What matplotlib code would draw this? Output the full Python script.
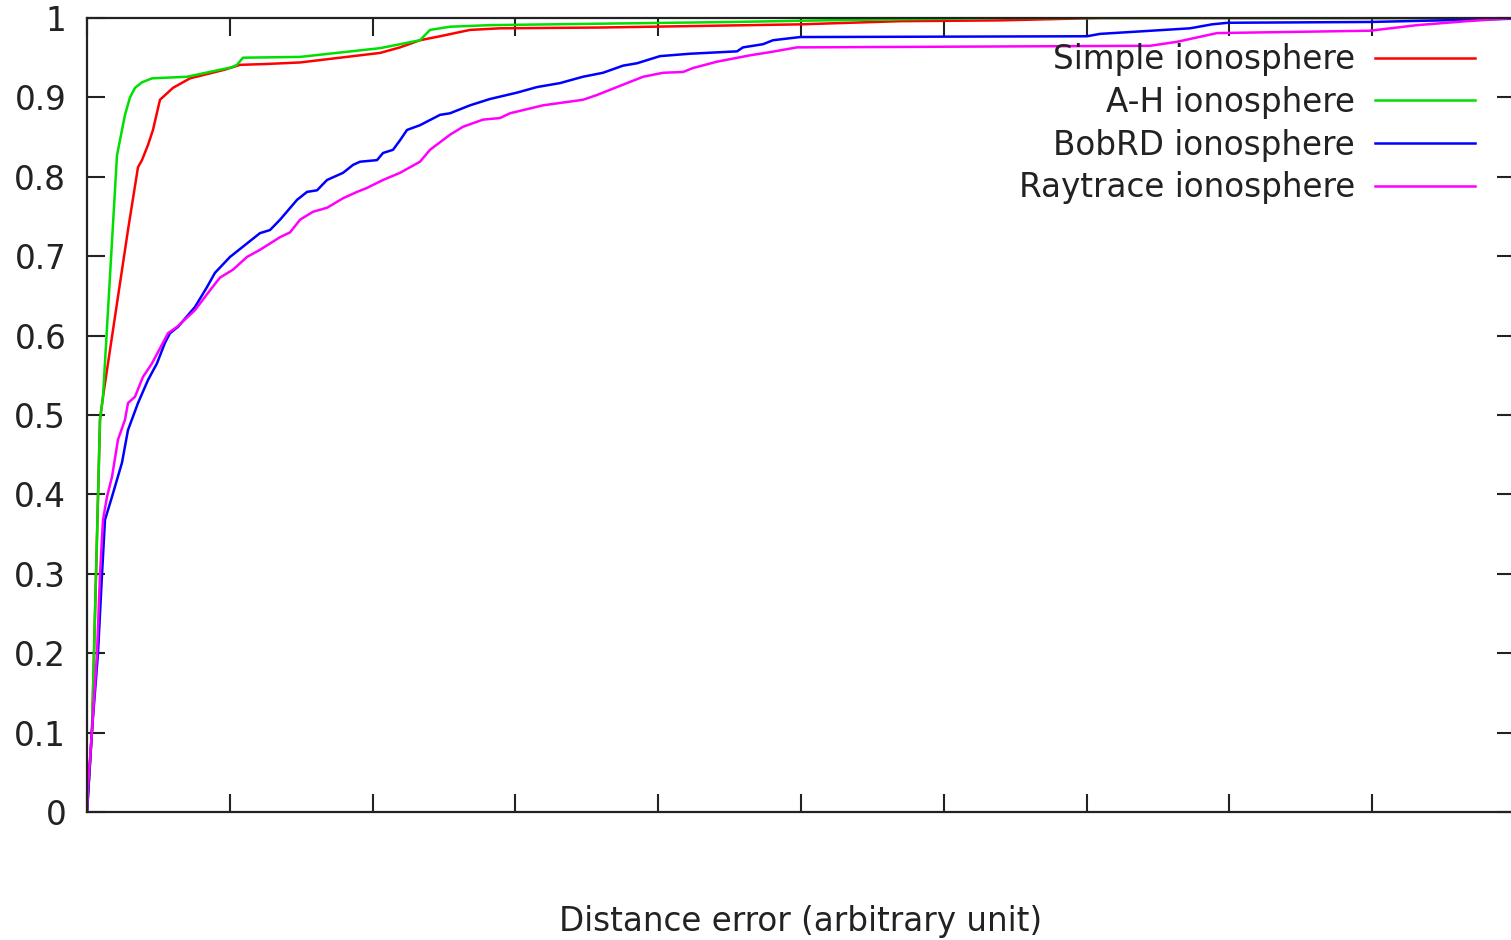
import matplotlib
matplotlib.use("Agg")
import matplotlib.pyplot as plt
from matplotlib.ticker import FixedLocator, FixedFormatter

# Cumulative distribution of distance error for each ionosphere model
simple_x = [0, 0.035, 0.049, 0.091, 0.112, 0.147, 0.217, 0.287, 0.357, 0.385, 0.427, 0.462,
            0.511, 0.602, 0.721, 0.966, 1.071, 1.246, 1.492, 2.052, 2.192, 2.332, 2.472,
            2.682, 2.892, 3.592, 4.993, 5.694, 6.394, 7.094, 10.0]
simple_y = [0, 0.103, 0.200, 0.494, 0.523, 0.565, 0.649, 0.733, 0.812, 0.821, 0.840, 0.859,
            0.897, 0.912, 0.924, 0.935, 0.941, 0.942, 0.944, 0.956, 0.963, 0.972, 0.977,
            0.985, 0.987, 0.988, 0.992, 0.996, 0.997, 1.0, 1.0]

ah_x = [0, 0.035, 0.049, 0.091, 0.112, 0.210, 0.245, 0.266, 0.301, 0.336, 0.385, 0.455,
        0.700, 1.015, 1.050, 1.092, 1.492, 2.052, 2.192, 2.332, 2.402, 2.542, 2.822,
        4.524, 5.154, 6.394, 10.0]
ah_y = [0, 0.103, 0.200, 0.494, 0.523, 0.827, 0.859, 0.878, 0.900, 0.912, 0.919, 0.924,
        0.926, 0.938, 0.941, 0.950, 0.951, 0.962, 0.967, 0.972, 0.985, 0.989, 0.991,
        0.995, 0.997, 1.0, 1.0]

bobrd_x = [0, 0.035, 0.077, 0.105, 0.126, 0.175, 0.245, 0.287, 0.357, 0.427, 0.490, 0.546,
           0.581, 0.637, 0.756, 0.840, 0.896, 1.001, 1.211, 1.282, 1.352, 1.471, 1.541,
           1.611, 1.681, 1.793, 1.863, 1.912, 2.031, 2.073, 2.143, 2.192, 2.241, 2.332,
           2.472, 2.542, 2.682, 2.822, 3.011, 3.151, 3.312, 3.473, 3.613, 3.754, 3.852,
           4.013, 4.223, 4.552, 4.594, 4.734, 4.804, 4.993, 7.003, 7.094, 7.724, 7.878,
           7.990, 8.985, 9.972, 10.0]
bobrd_y = [0, 0.103, 0.200, 0.299, 0.368, 0.397, 0.440, 0.481, 0.515, 0.544, 0.565, 0.591,
           0.603, 0.611, 0.636, 0.661, 0.679, 0.699, 0.729, 0.733, 0.746, 0.771, 0.781,
           0.783, 0.796, 0.805, 0.815, 0.819, 0.821, 0.830, 0.834, 0.846, 0.859, 0.865,
           0.878, 0.880, 0.890, 0.898, 0.906, 0.913, 0.918, 0.926, 0.931, 0.940, 0.943,
           0.952, 0.955, 0.958, 0.963, 0.967, 0.972, 0.976, 0.977, 0.980, 0.987, 0.992,
           0.994, 0.995, 0.999, 1.0]

raytrace_x = [0, 0.007, 0.035, 0.070, 0.091, 0.112, 0.140, 0.175, 0.217, 0.266, 0.287, 0.336,
              0.392, 0.455, 0.532, 0.567, 0.630, 0.756, 0.861, 0.931, 1.022, 1.120, 1.211,
              1.352, 1.422, 1.492, 1.583, 1.681, 1.793, 1.891, 1.961, 2.073, 2.192, 2.332,
              2.402, 2.542, 2.633, 2.773, 2.892, 2.962, 3.193, 3.473, 3.571, 3.711, 3.894,
              4.034, 4.174, 4.244, 4.412, 4.643, 4.783, 4.972, 7.444, 7.633, 7.913, 8.985,
              9.314, 9.664, 10.0]
raytrace_y = [0, 0.031, 0.103, 0.200, 0.299, 0.368, 0.397, 0.422, 0.469, 0.494, 0.515, 0.523,
              0.548, 0.565, 0.591, 0.603, 0.611, 0.632, 0.657, 0.673, 0.683, 0.699, 0.708,
              0.724, 0.730, 0.746, 0.756, 0.761, 0.773, 0.781, 0.786, 0.796, 0.805, 0.819,
              0.834, 0.853, 0.863, 0.872, 0.874, 0.880, 0.890, 0.897, 0.903, 0.913, 0.926,
              0.931, 0.932, 0.937, 0.945, 0.953, 0.957, 0.963, 0.965, 0.970, 0.981, 0.984,
              0.991, 0.996, 1.0]

series_labels = ["Simple ionosphere", "A-H ionosphere", "BobRD ionosphere", "Raytrace ionosphere"]
series_colors = ["#ff0000", "#00e000", "#0000ff", "#ff00ff"]

y_ticks = [0, 0.1, 0.2, 0.3, 0.4, 0.5, 0.6, 0.7, 0.8, 0.9, 1.0]
y_tick_labels = ["0", "0.1", "0.2", "0.3", "0.4", "0.5", "0.6", "0.7", "0.8", "0.9", "1"]
x_ticks = [0, 1, 2, 3, 4, 5, 6, 7, 8, 9, 10]

plt.rcParams["font.family"] = ["DejaVu Sans"]
FS = 23.5

fig = plt.figure(figsize=(15.11, 9.40), dpi=100)
W, H = 1511.0, 940.0
ax = fig.add_axes([87 / W, 1 - 812 / H, (1515 - 87) / W, (812 - 18) / H])

for xs, ys, lab, col in zip([simple_x, ah_x, bobrd_x, raytrace_x],
                            [simple_y, ah_y, bobrd_y, raytrace_y],
                            series_labels, series_colors):
    ax.plot(xs, ys, color=col, lw=1.8, label=lab, solid_joinstyle="round")

ax.set_xlim(0, 10)
ax.set_ylim(0, 1)
ax.xaxis.set_major_locator(FixedLocator(x_ticks))
ax.xaxis.set_major_formatter(FixedFormatter([""] * len(x_ticks)))
ax.yaxis.set_major_locator(FixedLocator(y_ticks))
ax.yaxis.set_major_formatter(FixedFormatter(y_tick_labels))
ax.tick_params(axis="both", direction="in", length=13, width=1.5, color="#222222",
               top=True, right=True, labelsize=FS, labelcolor="#222222")
ax.tick_params(axis="y", pad=15)
for sp in ax.spines.values():
    sp.set_linewidth(1.6)
    sp.set_color("#222222")

ax.set_xlabel("Distance error (arbitrary unit)", fontsize=FS, color="#222222")
ax.xaxis.label.set_va("baseline")
ax.xaxis.set_label_coords(0.5, (812 - 931) / 794)

leg = ax.legend(loc="upper right", bbox_to_anchor=(1475 / W, 1 - 43 / H),
                bbox_transform=fig.transFigure, frameon=False, markerfirst=False,
                fontsize=FS, handlelength=3.07, handletextpad=0.61, labelspacing=0.30,
                borderpad=0, borderaxespad=0)
for t in leg.get_texts():
    t.set_color("#222222")

fig.savefig("out.png", dpi=100)
